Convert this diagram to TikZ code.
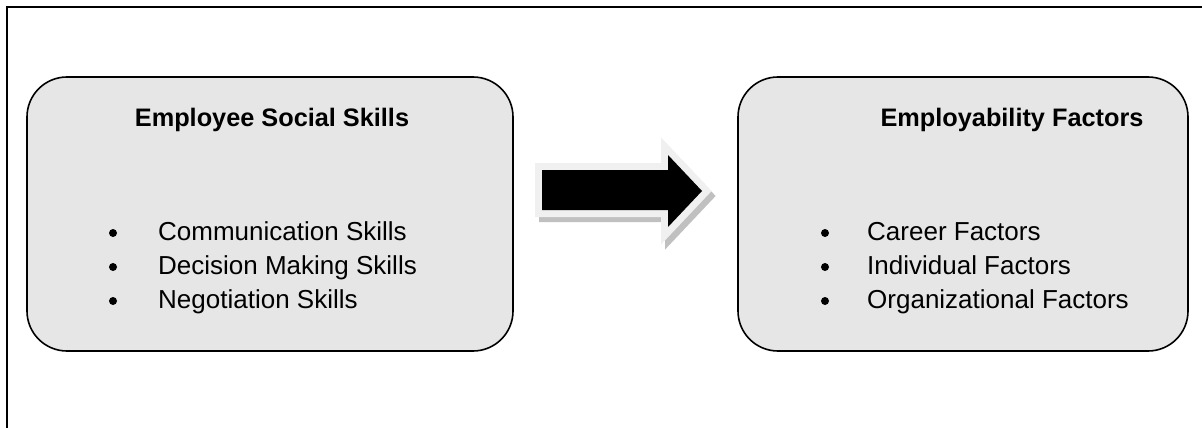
\documentclass[tikz,border=0pt]{standalone}
\usepackage{fontspec}
\setmainfont{Liberation Sans}
\definecolor{boxfill}{RGB}{230,230,230}
\definecolor{arrowedge}{RGB}{240,240,240}
\definecolor{arrowshadow}{RGB}{192,192,192}
\tikzset{
  panel/.style={draw=black, line width=1.6pt, fill=boxfill, rounded corners=40pt, inner sep=0pt},
  title/.style={font=\fontsize{25.3}{30}\selectfont\bfseries, inner sep=0pt, anchor=base},
  item/.style={font=\fontsize{26}{30}\selectfont, inner sep=0pt, anchor=base west},
  dot/.style={circle, fill=black, inner sep=0pt, minimum size=8pt},
  frame/.style={line width=2.4pt, line cap=butt}
}
\begin{document}
\begin{tikzpicture}[x=1pt,y=-1pt]
\useasboundingbox (0,0) rectangle (1202,428);
% outer frame (top and left only)
\coordinate (ftr) at (1202,7);
\coordinate (ftl) at (7,7);
\coordinate (fbl) at (7,428);
\draw[frame] (ftr) -- (ftl) -- (fbl);
% panels
\node[panel, minimum width=486pt, minimum height=274pt] (L) at (270,214) {};
\node[panel, minimum width=450pt, minimum height=274pt] (R) at (963,214) {};
% titles
\node[title] (Lt) at (272,126) {Employee Social Skills};
\node[title] (Rt) at (1012,126) {Employability Factors};
% left items
\node[dot] (lb1) at (113,233) {};
\node[item] (l1) at (158,240) {Communication Skills};
\node[dot] (lb2) at (113,267) {};
\node[item] (l2) at (158,274) {Decision Making Skills};
\node[dot] (lb3) at (113,301) {};
\node[item] (l3) at (158,308) {Negotiation Skills};
% right items
\node[dot] (rb1) at (825,233) {};
\node[item] (r1) at (867,240) {Career Factors};
\node[dot] (rb2) at (825,267) {};
\node[item] (r2) at (867,274) {Individual Factors};
\node[dot] (rb3) at (825,301) {};
\node[item] (r3) at (867,308) {Organizational Factors};
% block arrow
\def\arrowpath{(542,170) -- (668,170) -- (668,155) -- (702,191) -- (668,227) -- (668,210) -- (542,210) -- cycle}
\begin{scope}[shift={(4,5)}]
  \draw[arrowshadow, fill=arrowshadow, line width=14pt, line join=miter, miter limit=3] \arrowpath;
\end{scope}
\draw[arrowedge, fill=arrowedge, line width=14pt, line join=miter, miter limit=3] \arrowpath;
\fill[black] \arrowpath;
\end{tikzpicture}
\end{document}
